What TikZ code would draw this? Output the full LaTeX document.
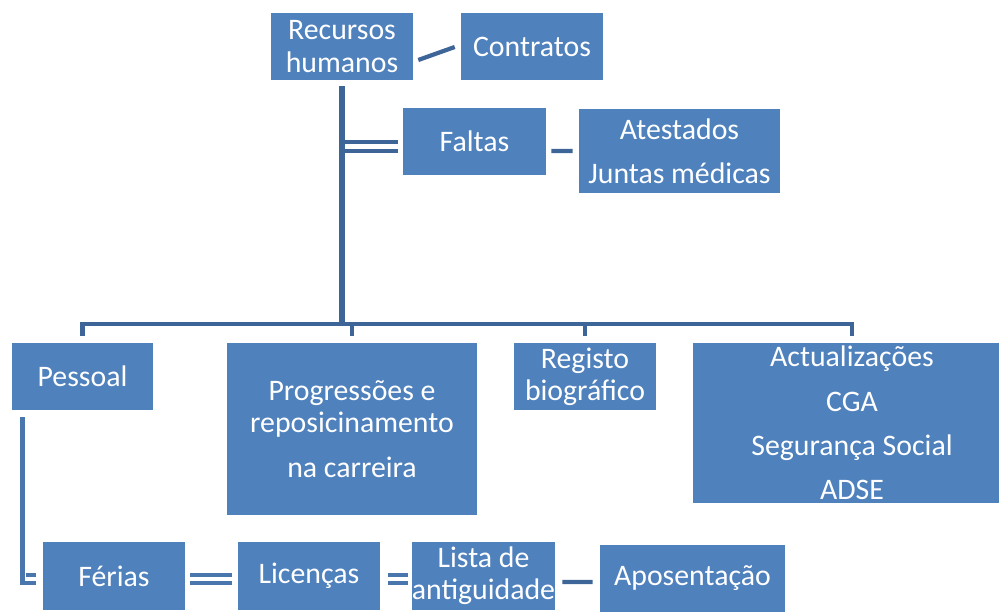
\documentclass[tikz,border=0pt]{standalone}
\usepackage{fontspec}
\setmainfont{Carlito}
\definecolor{boxblue}{RGB}{79,129,189}
\definecolor{lineblue}{RGB}{62,101,151}
\definecolor{hookblue}{RGB}{74,118,174}

\begin{document}
\begin{tikzpicture}[x=0.025cm, y=-0.025cm,
    every node/.style = {shape=rectangle, fill=boxblue, text=white,
      align=center, inner sep=0pt,
      font=\fontsize{21.2}{23}\selectfont},
    bx/.style 2 args = {minimum width=#1*0.025cm, minimum height=#2*0.025cm},
    wide/.style = {font=\fontsize{21.2}{31.5}\selectfont}]
      \tikzstyle{conn}=[draw=lineblue, line width=3pt]
      \tikzstyle{trunk}=[draw=lineblue, line width=3.6pt]
      \tikzstyle{dbl}=[draw=lineblue, line width=2.8pt, double=white, double distance=3pt]
      \tikzstyle{hook}=[draw=hookblue, line width=3.4pt]

    \useasboundingbox (0,0) rectangle (999,612);
    \clip (0,0) rectangle (999,612);

    \node[bx={142}{67}] (rh) at (342,46.5) {Recursos\\humanos};
    \node[bx={142}{67}] (con) at (532,46.5) {Contratos};
    \node[bx={143}{67}] (fal) at (474.5,141.5) {Faltas};
    \node[bx={201}{84}, wide] (ate) at (679.5,151) {Atestados\\Juntas médicas};

    \node[bx={141}{67}] (pes) at (82.5,376.5) {Pessoal};
    \node[bx={250}{172}] (prog) at (352,429) {Progressões e\\reposicinamento\\[9pt]na carreira};
    \node[bx={142}{67}] (reg) at (585,376.5) {Registo\\biográfico};
    \node[bx={318}{160}, wide] (act) at (852,423) {Actualizações\\CGA\\Segurança Social\\ADSE};

    \node[bx={142}{68}] (fer) at (114,576) {Férias};
    \node[bx={142}{68}] (lic) at (309,576) {Licenças};
    \node[bx={143}{68}] (lis) at (483.5,576) {Lista de\\antiguidade};
    \node[bx={185}{67}] (apo) at (692.5,578.5) {Aposentação};

    \coordinate (hub) at (342,324);

    \draw[conn] ([shift={(5,13.5)}]rh.east) -- ([shift={(-6,0.5)}]con.west);
    \draw[dbl] (fal.west) ++(-5,5) coordinate (fw) -- (fw -| hub);
    \draw[trunk] ([shift={(0,6)}]rh.south) -- (hub);
    \draw[conn] ([shift={(-6,0)}]ate.west) -- ([shift={(5,9.5)}]fal.east);

    \draw[conn] ([shift={(0,-7)}]pes.north) |- (hub) -| ([shift={(0,-7)}]act.north);
    \draw[conn] ([shift={(0,-7)}]prog.north) -- (prog.north |- hub);
    \draw[conn] ([shift={(0,-7)}]reg.north) -- (reg.north |- hub);

    \draw[hook] ([shift={(-60,7)}]pes.south) |- ([shift={(-7,7)}]fer.west);
    \draw[hook] ([shift={(-17,-1)}]fer.west) -- ([shift={(-7,-1)}]fer.west);
    \draw[dbl, draw=hookblue] ([shift={(5,3)}]fer.east) -- ([shift={(-6,3)}]lic.west);
    \draw[dbl, draw=hookblue] ([shift={(8,3)}]lic.east) -- ([shift={(-4,3)}]lis.west);
    \draw[conn] ([shift={(7,6)}]lis.east) -- ([shift={(-7,3.5)}]apo.west);
  \end{tikzpicture}
\end{document}
